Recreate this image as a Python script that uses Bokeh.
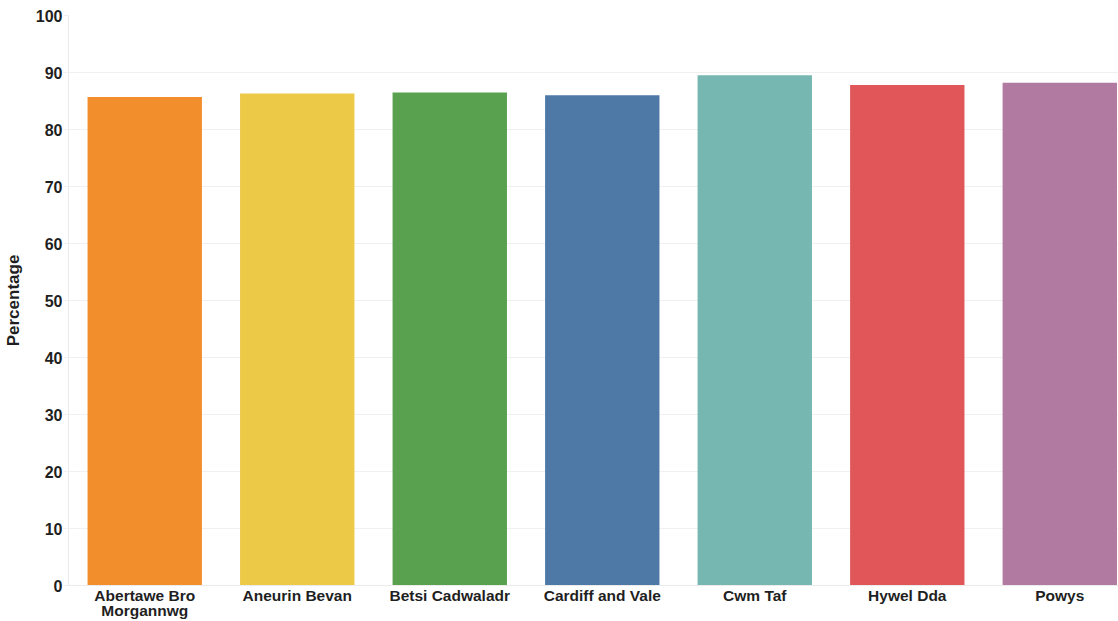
from bokeh.plotting import figure
from bokeh.models import Range1d, FixedTicker
from bokeh.embed import file_html
from bokeh.resources import INLINE

# ---- data ----
regions = ["Abertawe Bro Morgannwg", "Aneurin Bevan", "Betsi Cadwaladr",
           "Cardiff and Vale", "Cwm Taf", "Hywel Dda", "Powys"]
values = [85.7, 86.3, 86.5, 86.0, 89.5, 87.8, 88.2]
colors = ["#F28E2B", "#EDC948", "#59A14F", "#4E79A7", "#76B7B2", "#E15759", "#B07AA1"]
y_ticks = [0, 10, 20, 30, 40, 50, 60, 70, 80, 90, 100]
y_title = "Percentage"

FONT = "Liberation Sans"
TXT = "#1f1f1f"

idx = list(range(len(regions)))


def wrap(name, limit=18):
    if len(name) > limit:
        a, b = name.rsplit(" ", 1)
        return a + "\n" + b
    return name


p = figure(width=1118, height=621,
           x_range=Range1d(-0.5, 6.385), y_range=Range1d(0, 100),
           output_backend="svg", toolbar_location=None,
           min_border_left=68, min_border_right=0,
           min_border_top=15, min_border_bottom=34)
p.outline_line_color = None
p.background_fill_color = "white"
p.border_fill_color = "white"

p.vbar(x=idx, top=values, width=0.75, fill_color=colors, line_color=None)

# grid
p.xgrid.visible = False
p.ygrid.grid_line_color = "#f0f0f0"
p.ygrid.grid_line_width = 1
p.ygrid.ticker = FixedTicker(ticks=y_ticks)

# y axis
p.yaxis.ticker = FixedTicker(ticks=y_ticks)
p.yaxis.minor_tick_line_color = None
p.yaxis.major_tick_in = 0
p.yaxis.major_tick_out = 5
p.yaxis.major_tick_line_color = "#f0f0f0"
p.yaxis.axis_line_color = "#ebebeb"
p.yaxis.major_label_standoff = 1
p.yaxis.major_label_text_font = FONT
p.yaxis.major_label_text_font_style = "bold"
p.yaxis.major_label_text_font_size = "16px"
p.yaxis.major_label_text_color = TXT
p.yaxis.axis_label = y_title
p.yaxis.axis_label_text_font = FONT
p.yaxis.axis_label_text_font_style = "bold"
p.yaxis.axis_label_text_font_size = "17px"
p.yaxis.axis_label_text_color = TXT
p.yaxis.axis_label_standoff = 10

# x axis
p.xaxis.ticker = FixedTicker(ticks=idx)
p.xaxis.major_label_overrides = {i: wrap(regions[i]) for i in idx}
p.xaxis.major_tick_line_color = None
p.xaxis.minor_tick_line_color = None
p.xaxis.axis_line_color = "#ebebeb"
p.xaxis.major_tick_out = 0
p.xaxis.major_tick_in = 0
p.xaxis.major_label_standoff = 1
p.xaxis.major_label_text_font = FONT
p.xaxis.major_label_text_font_style = "bold"
p.xaxis.major_label_text_font_size = "15.5px"
p.xaxis.major_label_text_line_height = 0.9
p.xaxis.major_label_text_color = TXT

open("out.html", "w").write(file_html(p, INLINE))
